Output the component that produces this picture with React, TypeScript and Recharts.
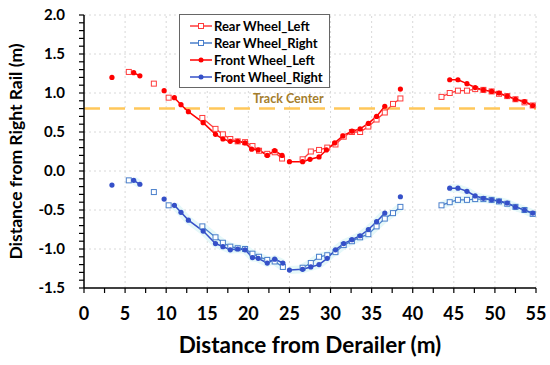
import { LineChart, Line, XAxis, YAxis, ReferenceLine, Legend } from 'recharts'

type Pt = [number, number | null]

// x = distance from derailer (m), y = distance from right rail (m); null breaks the line
const rearWheelLeft: Pt[] = [
  [5.45, 1.27], [7, null], [8.5, 1.12], [9.4, null], [10.3, 0.94], [12, null],
  [14.4, 0.68], [16.0, 0.54], [16.9, 0.47], [17.8, 0.41], [18.7, 0.38], [19.6, 0.37],
  [20.5, 0.32], [21.3, 0.26], [22.3, 0.22], [23.2, 0.24], [24.1, 0.16], [25.3, null],
  [26.6, 0.15], [27.6, 0.25], [28.6, 0.27], [29.6, 0.30], [30.6, 0.34], [31.6, 0.44],
  [32.6, 0.50], [33.6, 0.50], [34.6, 0.57], [35.6, 0.66], [36.6, 0.75], [37.6, 0.86],
  [38.5, 0.93], [41, null],
  [43.5, 0.95], [44.5, 1.00], [45.5, 1.03], [46.6, 1.03], [47.6, 1.05], [48.6, 1.04],
  [49.6, 1.02], [50.5, 0.99], [51.5, 0.96], [52.5, 0.92], [53.6, 0.88], [54.6, 0.84],
]

const rearWheelRight: Pt[] = [
  [5.45, -0.12], [7, null], [8.5, -0.27], [9.4, null], [10.3, -0.44], [12, null],
  [14.4, -0.71], [16.0, -0.85], [16.9, -0.92], [17.8, -0.97], [18.7, -0.99], [19.6, -1.0],
  [20.5, -1.06], [21.3, -1.1], [22.3, -1.14], [23.2, -1.16], [24.2, -1.23], [25.3, null],
  [26.6, -1.24], [27.6, -1.18], [28.6, -1.10], [29.6, -1.08], [30.6, -1.04], [31.6, -0.95],
  [32.6, -0.90], [33.6, -0.85], [34.6, -0.81], [35.6, -0.71], [36.6, -0.61], [37.6, -0.54],
  [38.5, -0.46], [41, null],
  [43.5, -0.44], [44.5, -0.40], [45.5, -0.37], [46.6, -0.37], [47.6, -0.36], [48.6, -0.36],
  [49.6, -0.37], [50.5, -0.39], [51.5, -0.42], [52.5, -0.46], [53.6, -0.50], [54.6, -0.55],
]

const frontWheelLeft: Pt[] = [
  [3.4, 1.20], [4.7, null], [6.05, 1.26], [6.8, 1.22], [8.2, null], [9.75, 1.03], [10.4, null],
  [11.0, 0.94], [11.8, 0.85], [12.7, 0.76], [14.5, 0.62], [16.0, 0.47], [16.9, 0.41],
  [17.8, 0.38], [18.7, 0.38], [19.6, 0.36], [20.4, 0.28], [21.2, 0.27], [22.3, 0.20],
  [23.2, 0.26], [24.1, 0.20], [24.6, null],
  [25.0, 0.12], [26.6, 0.12], [27.5, 0.15], [28.6, 0.18], [29.5, 0.27], [30.5, 0.36],
  [31.5, 0.45], [32.6, 0.51], [33.6, 0.54], [34.6, 0.61], [35.6, 0.70], [36.6, 0.83],
  [37.5, null], [38.5, 1.05], [41, null],
  [44.5, 1.17], [45.5, 1.17], [46.6, 1.12], [47.6, 1.07], [48.6, 1.04], [49.6, 1.02],
  [50.5, 1.00], [51.5, 0.96], [52.5, 0.92], [53.6, 0.89], [54.6, 0.84],
]

const frontWheelRight: Pt[] = [
  [3.4, -0.18], [4.7, null], [6.05, -0.12], [6.8, -0.17], [8.2, null], [9.75, -0.36], [10.4, null],
  [11.0, -0.44], [11.8, -0.53], [12.7, -0.63], [14.5, -0.77], [16.0, -0.93], [16.9, -0.97],
  [17.8, -1.01], [18.7, -1.00], [19.6, -1.01], [20.5, -1.11], [21.2, -1.12], [22.3, -1.18],
  [23.2, -1.13], [24.2, -1.18], [24.6, null],
  [25.0, -1.27], [26.6, -1.26], [27.6, -1.23], [28.6, -1.20], [29.6, -1.12], [30.6, -1.01],
  [31.6, -0.93], [32.6, -0.88], [33.6, -0.83], [34.6, -0.75], [35.6, -0.65], [36.6, -0.54],
  [37.5, null], [38.5, -0.33], [41, null],
  [44.5, -0.22], [45.5, -0.22], [46.6, -0.26], [47.6, -0.32], [48.6, -0.35], [49.6, -0.37],
  [50.5, -0.385], [51.5, -0.41], [52.5, -0.46], [53.6, -0.50], [54.6, -0.54],
]

const trackCenter = 0.8

const xTicks = [0, 2.5, 5, 7.5, 10, 12.5, 15, 17.5, 20, 22.5, 25, 27.5, 30, 32.5, 35, 37.5, 40, 42.5, 45, 47.5, 50, 52.5, 55]
const yTicks = [
  -1.5, -1.4, -1.3, -1.2, -1.1, -1.0, -0.9, -0.8, -0.7, -0.6, -0.5, -0.4, -0.3, -0.2, -0.1,
  0, 0.1, 0.2, 0.3, 0.4, 0.5, 0.6, 0.7, 0.8, 0.9, 1.0, 1.1, 1.2, 1.3, 1.4, 1.5, 1.6, 1.7, 1.8, 1.9, 2.0,
]
const xGrid = [5, 10, 15, 20, 25, 30, 35, 40, 45, 50, 55]
const yGrid = [-1.0, -0.5, 0, 0.5, 1.0, 1.5, 2.0]

const RED = '#ff0000'
const RED_LIGHT = '#ff3b3b'
const BLUE = '#3550c8'
const BLUE_LIGHT = '#4a7fcb'
const GLOW = '#e6f8f9'
const FONT = 'Lato, "Open Sans", sans-serif'

const rows = (pts: Pt[]) => pts.map(([x, y]) => ({ x, y }))

const squareDot = (color: string) => (props: any) => {
  const { cx, cy, value, index } = props
  if (value == null || cx == null || cy == null) return <g key={index} />
  return <rect key={index} x={cx - 2.5} y={cy - 2.5} width={5} height={5} fill="#fff" stroke={color} strokeWidth={1} />
}

const legendItems = [
  { name: 'Rear Wheel_Left', color: RED_LIGHT, square: true },
  { name: 'Rear Wheel_Right', color: BLUE_LIGHT, square: true },
  { name: 'Front Wheel_Left', color: RED, square: false },
  { name: 'Front Wheel_Right', color: BLUE, square: false },
]

function LegendBox() {
  return (
    <div style={{ border: '1px solid #666', background: '#fff', padding: '2px 4px 2px 10px', width: 135 }}>
      {legendItems.map((it) => (
        <div key={it.name} style={{ display: 'flex', alignItems: 'center', height: 17 }}>
          <svg width={22} height={10} style={{ marginRight: 2 }}>
            <line x1={0} y1={5} x2={22} y2={5} stroke={it.color} strokeWidth={1.5} />
            {it.square ? (
              <rect x={8.5} y={2.5} width={5} height={5} fill="#fff" stroke={it.color} strokeWidth={1} />
            ) : (
              <circle cx={11} cy={5} r={2.5} fill={it.color} />
            )}
          </svg>
          <span style={{ fontFamily: FONT, fontWeight: 700, fontSize: 13, color: '#000', whiteSpace: 'nowrap' }}>
            {it.name}
          </span>
        </div>
      ))}
    </div>
  )
}

const isMajorY = (v: number) => Math.abs(v * 2 - Math.round(v * 2)) < 1e-6
const isMajorX = (v: number) => Math.abs(v / 5 - Math.round(v / 5)) < 1e-6

export default function App() {
  return (
    <div style={{ position: 'absolute', left: 0, top: 0, width: 550, height: 365, background: '#fff' }}>
      <LineChart width={550} height={365} margin={{ top: 15, right: 14, bottom: 0, left: 0 }}>
        <XAxis
          dataKey="x"
          type="number"
          domain={[0, 55]}
          ticks={xTicks}
          interval={0}
          allowDuplicatedCategory={false}
          height={77}
          tickFormatter={(v: number) => (isMajorX(v) ? String(v) : '')}
          tick={{ fontSize: 18, fontWeight: 700, fill: '#000', fontFamily: FONT }}
          tickSize={5}
          tickMargin={14}
          axisLine={{ stroke: '#000', strokeWidth: 1.5 }}
          tickLine={{ stroke: '#000', strokeWidth: 1.2 }}
          label={(p: any) => {
            const vb = p.viewBox || {}
            return (
              <text x={vb.x + vb.width / 2} y={353} textAnchor="middle" fontSize={22.5} fontWeight={700} fill="#000" fontFamily={FONT}>
                Distance from Derailer (m)
              </text>
            )
          }}
        />
        <YAxis
          dataKey="y"
          type="number"
          domain={[-1.5, 2.0]}
          ticks={yTicks}
          interval={0}
          width={84}
          tickFormatter={(v: number) => (isMajorY(v) ? v.toFixed(1) : '')}
          tick={{ fontSize: 15, fontWeight: 700, fill: '#000', fontFamily: FONT }}
          tickSize={5}
          tickMargin={14}
          axisLine={{ stroke: '#000', strokeWidth: 1.5 }}
          tickLine={{ stroke: '#000', strokeWidth: 1.2 }}
          label={(p: any) => {
            const vb = p.viewBox || {}
            const cy = vb.y + vb.height / 2
            return (
              <text x={22} y={cy} transform={`rotate(-90 22 ${cy})`} textAnchor="middle" fontSize={17.5} fontWeight={700} fill="#000" fontFamily={FONT}>
                Distance from Right Rail (m)
              </text>
            )
          }}
        />
        {xGrid.map((v) => (
          <ReferenceLine key={'gx' + v} x={v} stroke="#d8d8d8" strokeDasharray="2 3" />
        ))}
        {yGrid.map((v) => (
          <ReferenceLine key={'gy' + v} y={v} stroke="#d8d8d8" strokeDasharray="2 3" />
        ))}
        <ReferenceLine
          y={trackCenter}
          stroke="#ffc75a"
          strokeWidth={2.5}
          strokeDasharray="16 9"
          label={(p: any) => {
            const vb = p.viewBox || {}
            return (
              <text x={vb.x + vb.width * 0.452} y={vb.y - 6} textAnchor="middle" fontSize={12.5} fontWeight={700} fill="#a47d2c" fontFamily={FONT}>
                Track Center
              </text>
            )
          }}
        />
        <Line data={rows(rearWheelRight)} dataKey="y" stroke={GLOW} strokeWidth={8} dot={false} activeDot={false} legendType="none" isAnimationActive={false} />
        <Line data={rows(frontWheelRight)} dataKey="y" stroke={GLOW} strokeWidth={8} dot={false} activeDot={false} legendType="none" isAnimationActive={false} />
        <Line
          name="Rear Wheel_Left"
          data={rows(rearWheelLeft)}
          dataKey="y"
          stroke={RED_LIGHT}
          strokeWidth={1.3}
          dot={squareDot(RED_LIGHT)}
          isAnimationActive={false}
        />
        <Line
          name="Rear Wheel_Right"
          data={rows(rearWheelRight)}
          dataKey="y"
          stroke={BLUE_LIGHT}
          strokeWidth={1.3}
          dot={squareDot(BLUE_LIGHT)}
          isAnimationActive={false}
        />
        <Line
          name="Front Wheel_Left"
          data={rows(frontWheelLeft)}
          dataKey="y"
          stroke={RED}
          strokeWidth={1.5}
          dot={{ r: 2.6, fill: RED, stroke: RED, strokeWidth: 0 }}
          isAnimationActive={false}
        />
        <Line
          name="Front Wheel_Right"
          data={rows(frontWheelRight)}
          dataKey="y"
          stroke={BLUE}
          strokeWidth={1.5}
          dot={{ r: 2.6, fill: BLUE, stroke: BLUE, strokeWidth: 0 }}
          isAnimationActive={false}
        />
        <Legend
          layout="vertical"
          align="center"
          verticalAlign="middle"
          content={() => <LegendBox />}
          wrapperStyle={{ left: 179, top: 14, width: 151 }}
        />
      </LineChart>
    </div>
  )
}
